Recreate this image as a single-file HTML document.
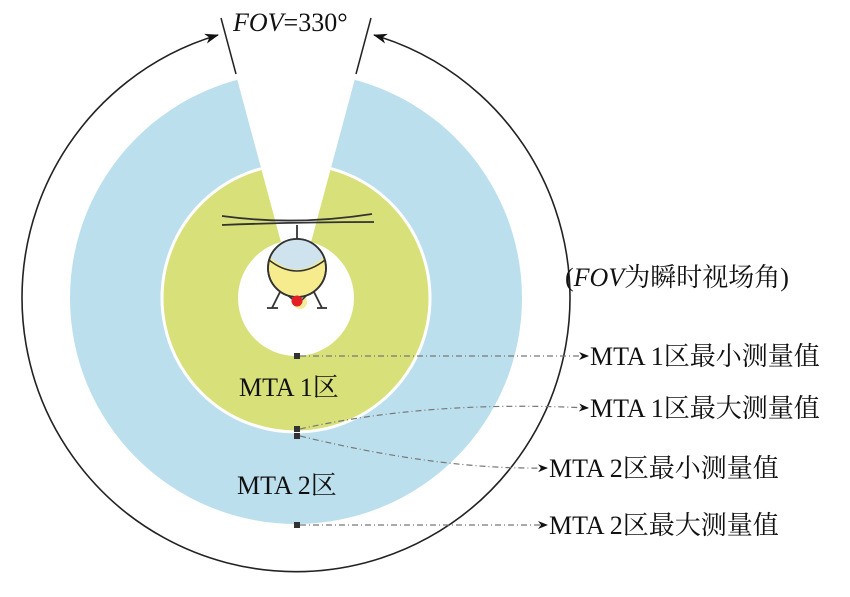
<!DOCTYPE html>
<html><head><meta charset="utf-8"><style>
html,body{margin:0;padding:0;background:#fff;}
svg{display:block}
text{font-family:"Liberation Serif","Noto Serif CJK SC",serif;fill:#111;}
</style></head><body>
<svg width="850" height="597" viewBox="0 0 850 597" xmlns="http://www.w3.org/2000/svg">
<defs>
<marker id="a" markerWidth="10" markerHeight="8" refX="9" refY="4" orient="auto" markerUnits="userSpaceOnUse">
<path d="M0,0 L10,4 L0,8 L3,4 Z" fill="#111"/></marker>
<marker id="b" markerWidth="14" markerHeight="10" refX="13" refY="5" orient="auto-start-reverse" markerUnits="userSpaceOnUse">
<path d="M0,0 L14,5 L0,10 L4,5 Z" fill="#111"/></marker>
</defs>
<circle cx="296" cy="298" r="226" fill="#bcdfee"/>
<circle cx="296" cy="298" r="134" fill="#d8e07a" stroke="#fff" stroke-width="3"/>
<circle cx="296" cy="298" r="58" fill="#fff"/>
<polygon points="296,298 232,60 360,60" fill="#fff"/>
<line x1="236" y1="74" x2="221" y2="18" stroke="#222" stroke-width="1.5"/>
<line x1="356" y1="74" x2="371" y2="18" stroke="#222" stroke-width="1.5"/>
<path d="M374,35 A274,274 0 1 1 218,35" fill="none" stroke="#222" stroke-width="1.6" marker-start="url(#b)" marker-end="url(#b)"/>
<text x="233" y="31" font-size="26"><tspan font-style="italic">FOV</tspan>=330°</text>
<!-- helicopter -->
<path d="M222,216 Q296,226 372,214" fill="none" stroke="#333" stroke-width="1.8"/>
<path d="M222,225 Q296,222 374,222" fill="none" stroke="#333" stroke-width="1.8"/>
<line x1="297" y1="225" x2="297" y2="241" stroke="#333" stroke-width="1.8"/>
<circle cx="300" cy="302" r="7" fill="#f3ec9a"/>
<line x1="280" y1="292" x2="272" y2="308" stroke="#333" stroke-width="1.8"/>
<line x1="314" y1="292" x2="322" y2="308" stroke="#333" stroke-width="1.8"/>
<line x1="267" y1="308" x2="278" y2="308" stroke="#333" stroke-width="1.8"/>
<line x1="317" y1="308" x2="327" y2="308" stroke="#333" stroke-width="1.8"/>
<line x1="286" y1="294" x2="296" y2="302" stroke="#333" stroke-width="1.5"/>
<line x1="308" y1="294" x2="300" y2="302" stroke="#333" stroke-width="1.5"/>
<circle cx="297" cy="268" r="29" fill="#f6ec8e" stroke="#333" stroke-width="1.8"/>
<path d="M270,257 A29,29 0 0 1 324,257 Q297,282 270,257 Z" fill="#cfe3ee"/>
<path d="M269,260 Q297,282 325,260" fill="none" stroke="#333" stroke-width="1.5"/>
<circle cx="297" cy="268" r="29" fill="none" stroke="#333" stroke-width="1.8"/>
<circle cx="297" cy="301" r="5.5" fill="#e31e24"/>
<!-- labels -->
<text x="239" y="396" font-size="26">MTA 1区</text>
<text x="237" y="494" font-size="26">MTA 2区</text>
<text x="565" y="286" font-size="26">(<tspan font-style="italic">FOV</tspan>为瞬时视场角)</text>
<g fill="#333"><rect x="294" y="353" width="6" height="6"/><rect x="294" y="426" width="6" height="6"/><rect x="294" y="433" width="6" height="6"/><rect x="294" y="522" width="6" height="6"/></g>
<g fill="none" stroke="#777" stroke-width="1.2" stroke-dasharray="6,3,1,3">
<path d="M300,356 L588,356" marker-end="url(#a)"/>
<path d="M300,429 Q430,400 588,408" marker-end="url(#a)"/>
<path d="M300,436 Q440,470 547,468" marker-end="url(#a)"/>
<path d="M300,525 L547,525" marker-end="url(#a)"/>
</g>
<text x="590" y="365" font-size="26">MTA 1区最小测量值</text>
<text x="590" y="417" font-size="26">MTA 1区最大测量值</text>
<text x="549" y="477" font-size="26">MTA 2区最小测量值</text>
<text x="549" y="534" font-size="26">MTA 2区最大测量值</text>
</svg>
</body></html>
